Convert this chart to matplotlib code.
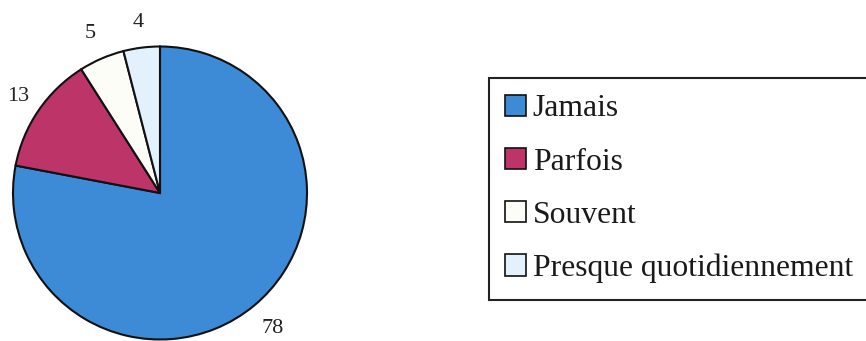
import matplotlib
matplotlib.use("Agg")
import matplotlib.pyplot as plt
import numpy as np
from matplotlib.patches import Patch

categories = ["Jamais", "Parfois", "Souvent", "Presque quotidiennement"]
values = [78, 13, 5, 4]
colors = ["#3d8ad6", "#bd3468", "#fdfdf8", "#e2f1fb"]
label_dist = [1.2, 1.17, 1.19, 1.17]

plt.rcParams['font.family'] = ['Liberation Serif', 'DejaVu Serif']

fig = plt.figure(figsize=(8.66, 3.41), dpi=100)
cx, cy, rx, ry = 160, 193, 147, 146.5
ax = fig.add_axes([(cx - rx) / 866, (341 - cy - ry) / 341, 2 * rx / 866, 2 * ry / 341])
wedges, texts = ax.pie(values, colors=colors, startangle=90, counterclock=False,
                       labels=[str(v) for v in values], labeldistance=1.18,
                       wedgeprops=dict(edgecolor="#111111", linewidth=1.5),
                       textprops=dict(fontsize=16, color="#222222"))
ax.set_aspect('auto')
ax.set_xlim(-1, 1)
ax.set_ylim(-1, 1)
for w, t, d in zip(wedges, texts, label_dist):
    w.set_clip_on(False)
    ang = np.deg2rad((w.theta1 + w.theta2) / 2)
    t.set_position((d * np.cos(ang), d * np.sin(ang)))
    t.set_ha('center')
    t.set_va('center')
    t.set_clip_on(False)

handles = [Patch(facecolor=c, edgecolor="#111111", linewidth=1.2) for c in colors]
leg = fig.legend(handles, categories, loc='upper left',
                 bbox_to_anchor=(489 / 866, 1 - 78 / 341), borderaxespad=0,
                 fontsize=22.8, handlelength=0.66, handleheight=0.66,
                 handletextpad=0.2, labelspacing=0.76, borderpad=0.52,
                 fancybox=False, framealpha=1, edgecolor="#222222")
leg.get_frame().set_linewidth(1.5)
for t in leg.get_texts():
    t.set_color("#1a1a1a")

fig.savefig("out.png", dpi=100)
